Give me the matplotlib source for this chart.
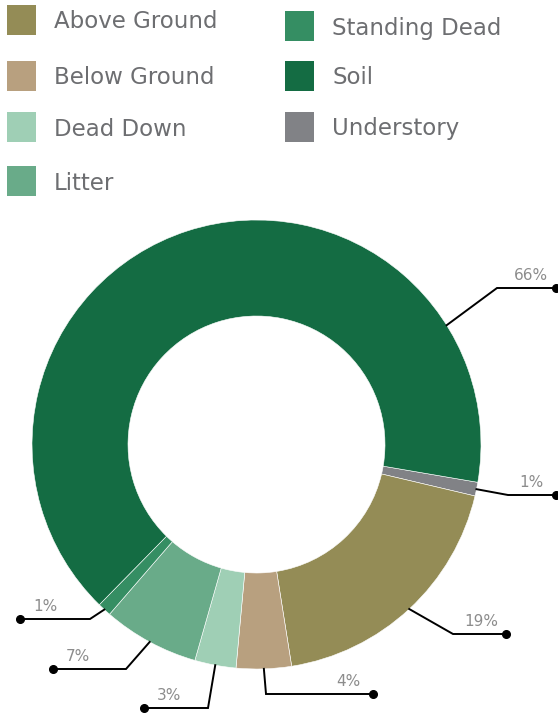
import matplotlib
matplotlib.use("Agg")
import numpy as np
from matplotlib import pyplot as plt
from matplotlib.patches import Rectangle

# slices in drawing order, clockwise from just below 3 o'clock
categories = ["Understory", "Above Ground", "Below Ground", "Dead Down",
              "Litter", "Standing Dead", "Soil"]
shares = [1, 19, 4, 3, 7, 1, 66]
colors = ["#818286", "#948c56", "#b8a07f", "#9fcfb5",
          "#69ab89", "#358e63", "#146c43"]
pct_labels = [f"{v}%" for v in shares]

legend_left = ["Above Ground", "Below Ground", "Dead Down", "Litter"]
legend_right = ["Standing Dead", "Soil", "Understory"]

# layout, in pixels from the top-left corner
W, H = 558, 713
center = (256.5, 444.5)
r_out, ring = 224.5, 96
elbows = [(508, 495), (453, 634), (266, 694), (208, 708),
          (126, 669), (90, 619), (497, 288)]
dot_x = [556, 506, 373, 144, 53, 20, 556]
anchor_override = {"Soil": -32.1}

TEXT = "#6d6e71"
PCT = "#8c8c8c"
FONT = "DejaVu Sans"

fig = plt.figure(figsize=(W / 100, H / 100), dpi=100)
ax = fig.add_axes([0, 0, 1, 1])

# y axis is flipped below, so counterclock=True draws clockwise on screen
wedges, _ = ax.pie(shares, colors=colors, startangle=9.7, counterclock=True,
                   center=center, radius=r_out,
                   wedgeprops=dict(width=ring, edgecolor="white", linewidth=0.4))
ax.set_xlim(0, W)
ax.set_ylim(H, 0)
ax.set_aspect("equal")
ax.axis("off")

for w, name, lab, (ex, ey), dx in zip(wedges, categories, pct_labels, elbows, dot_x):
    ang = anchor_override.get(name, (w.theta1 + w.theta2) / 2)
    px = center[0] + r_out * np.cos(np.radians(ang))
    py = center[1] + r_out * np.sin(np.radians(ang))
    ax.plot([px, ex, dx], [py, ey, ey], color="black", lw=1.4,
            solid_joinstyle="miter", clip_on=False)
    ax.plot(dx, ey, "o", color="black", ms=5.5, clip_on=False)
    side = -1 if dx > ex else 1
    ax.text(dx + side * 25, ey - 8, lab, ha="center", va="baseline",
            fontsize=11, color=PCT, family=FONT)

# legend drawn by hand to keep the uneven row spacing
def legend_entry(x, top, name):
    color = colors[categories.index(name)]
    ax.add_patch(Rectangle((x, top), 29, 30, facecolor=color, edgecolor="none"))
    ax.text(x + 47, top + 23.5, name, ha="left", va="baseline",
            fontsize=16.5, color=TEXT, family=FONT)

for name, top in zip(legend_left, [5, 61, 112, 166]):
    legend_entry(7, top, name)
for name, top in zip(legend_right, [11, 61, 112]):
    legend_entry(285, top, name)

fig.savefig("out.png", dpi=100)
